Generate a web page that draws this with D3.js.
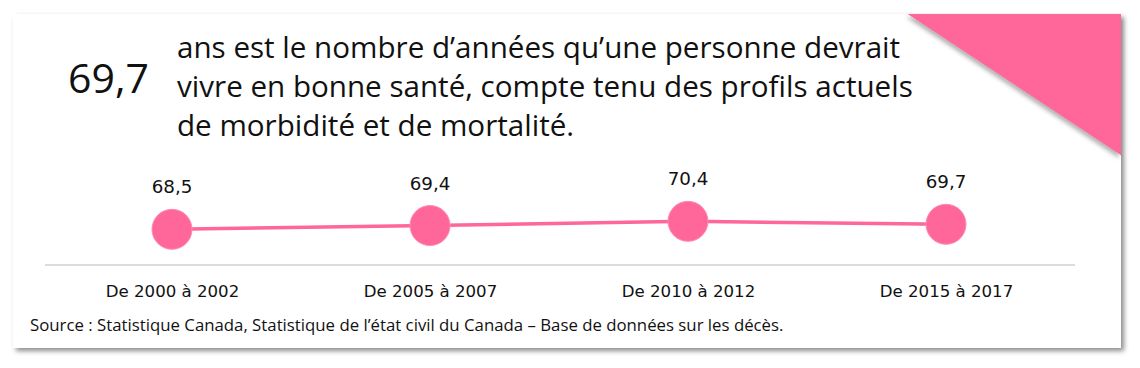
<!DOCTYPE html>
<html><head><meta charset="utf-8">
<script src="https://cdn.jsdelivr.net/npm/d3@7"></script>
<style>
html,body{margin:0;padding:0;background:#fff;}
svg{display:block;}
</style></head>
<body>
<svg id="chart" width="1140" height="368"></svg>
<script>
const categories = ["De 2000 à 2002", "De 2005 à 2007", "De 2010 à 2012", "De 2015 à 2017"];
const values = [68.5, 69.4, 70.4, 69.7];
const valueLabels = ["68,5", "69,4", "70,4", "69,7"];
const headlineValue = "69,7";
const headlineLines = [
  "ans est le nombre d’années qu’une personne devrait",
  "vivre en bonne santé, compte tenu des profils actuels",
  "de morbidité et de mortalité."
];
const sourceText = "Source : Statistique Canada, Statistique de l’état civil du Canada – Base de données sur les décès.";

const pink = "#ff6699";
const svg = d3.select("#chart");

const defs = svg.append("defs");
const f = defs.append("filter").attr("id","shadow").attr("x","-5%").attr("y","-5%").attr("width","110%").attr("height","115%");
f.append("feDropShadow").attr("dx",3).attr("dy",3).attr("stdDeviation",2.5).attr("flood-color","#000").attr("flood-opacity",0.45);
const f2 = defs.append("filter").attr("id","tshadow").attr("x","-20%").attr("y","-20%").attr("width","140%").attr("height","140%");
f2.append("feDropShadow").attr("dx",-2).attr("dy",3).attr("stdDeviation",2).attr("flood-color","#000").attr("flood-opacity",0.3);

// card
svg.append("rect").attr("x",13).attr("y",14).attr("width",1108).attr("height",334)
  .attr("fill","#fff").attr("filter","url(#shadow)");
svg.append("rect").attr("x",13).attr("y",14).attr("width",1108).attr("height",334)
  .attr("fill","#fff");

// corner triangle
svg.append("path").attr("d","M908,14 L1121,14 L1121,155 Z").attr("fill",pink).attr("filter","url(#tshadow)");
svg.append("path").attr("d","M908,14 L1121,14 L1121,155 Z").attr("fill",pink);

// headline
svg.append("text").attr("x",68).attr("y",93)
  .attr("font-family","'Open Sans'").attr("font-size",41).attr("fill","#111")
  .text(headlineValue);
svg.append("g").selectAll("text").data(headlineLines).join("text")
  .attr("x",177).attr("y",(d,i)=>57.5+i*39)
  .attr("font-family","'Open Sans'").attr("font-size",29.6).attr("fill","#111")
  .text(d=>d);

// scales
const x = d3.scalePoint().domain(categories).range([43,1075]).padding(0.5);
const y = d3.scaleLinear().domain([60,80]).range([265,181]);

// axis
const axis = d3.axisBottom(x).tickSize(0).tickPadding(20);
const gAxis = svg.append("g").attr("transform","translate(0,265)").call(axis);
gAxis.select(".domain").attr("d","M45,0H1075").attr("stroke","#dcdcdc").attr("stroke-width",2);
gAxis.selectAll("text").attr("font-family","'DejaVu Sans'").attr("font-size",16.6).attr("fill","#111");

const pts = categories.map((c,i)=>({c, v:values[i], l:valueLabels[i]}));

svg.append("path").datum(pts)
  .attr("d", d3.line().x(d=>x(d.c)).y(d=>y(d.v)))
  .attr("fill","none").attr("stroke",pink).attr("stroke-width",3.5);

svg.append("g").selectAll("circle").data(pts).join("circle")
  .attr("cx",d=>x(d.c)).attr("cy",d=>y(d.v)).attr("r",20)
  .attr("fill",pink).attr("stroke","#ff8ab3").attr("stroke-width",1);

svg.append("g").selectAll("text").data(pts).join("text")
  .attr("x",d=>x(d.c)).attr("y",d=>y(d.v)-36)
  .attr("text-anchor","middle")
  .attr("font-family","'DejaVu Sans'").attr("font-size",18.3).attr("fill","#111")
  .text(d=>d.l);

svg.append("text").attr("x",30).attr("y",331)
  .attr("font-family","'Open Sans'").attr("font-size",16.8).attr("fill","#111")
  .text(sourceText);
</script>
</body></html>
